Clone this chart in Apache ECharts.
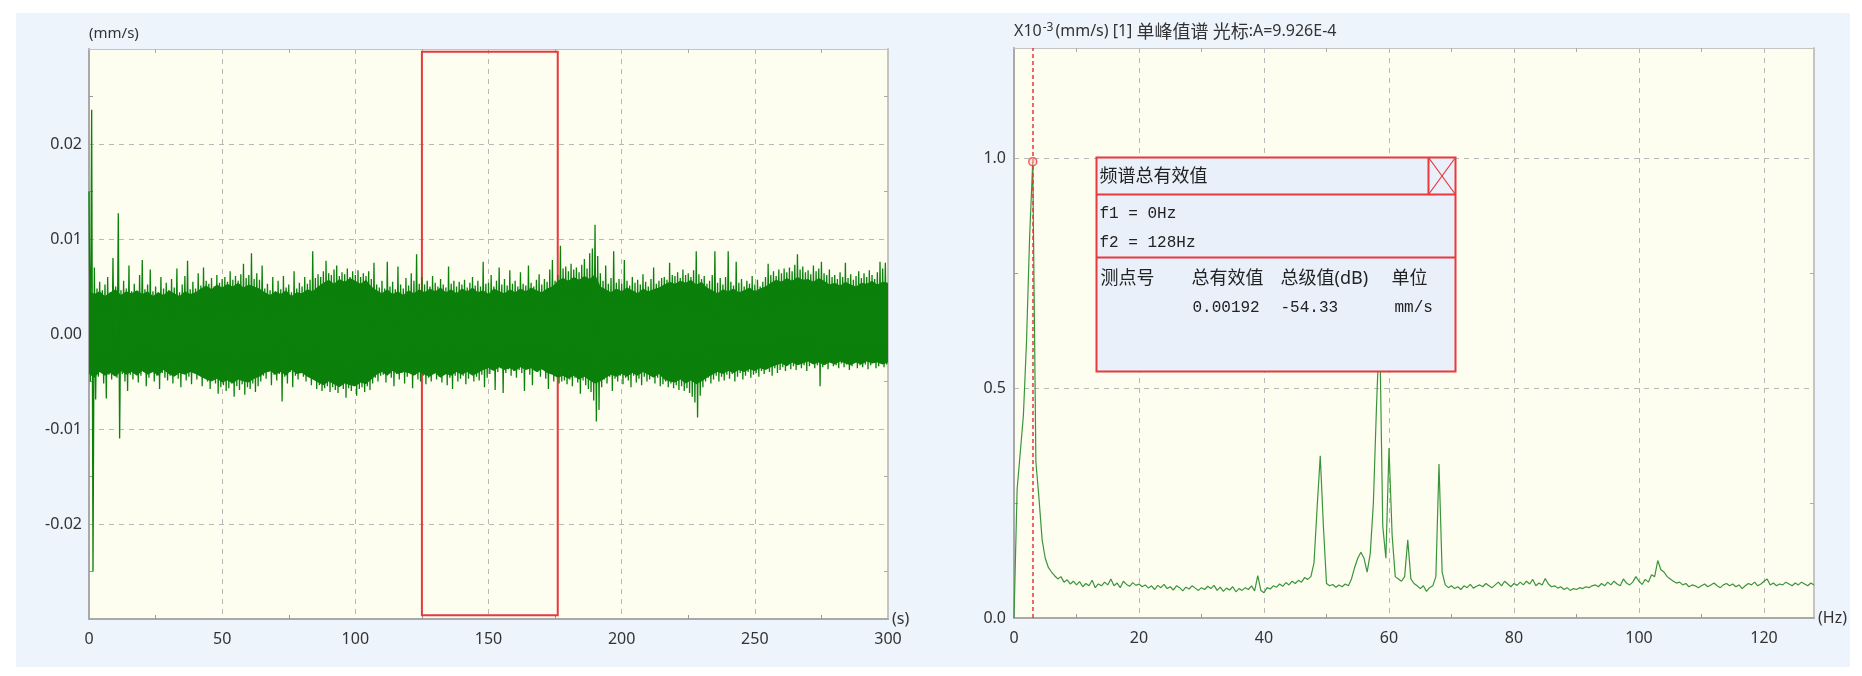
<!DOCTYPE html>
<html>
<head>
<meta charset="utf-8">
<script src="https://cdn.jsdelivr.net/npm/echarts@6/dist/echarts.min.js"></script>
<style>
html, body { margin: 0; padding: 0; background: #fff; }
.panel { position: absolute; left: 16px; top: 13px; width: 1834px; height: 654px; background: #edf4fc; }
#main { position: absolute; left: 0; top: 0; width: 1862px; height: 676px; }
</style>
</head>
<body>
<div class="panel"></div>
<div id="main"></div>
<script>
// 时域波形尖峰包络 (1 s 一格, 单位 1e-3 mm/s)
var waveHigh = [
  15.0, 23.6, 7.0, 4.8, 5.5, 4.6, 5.2, 6.0, 4.4, 8.0,
  5.0, 12.7, 4.6, 5.6, 4.8, 7.2, 4.5, 5.3, 4.4, 6.2,
  7.8, 4.7, 5.2, 6.8, 4.5, 5.0, 4.4, 6.0, 4.8, 5.4,
  4.6, 5.8, 4.9, 6.9, 4.4, 5.2, 6.1, 7.7, 4.7, 5.5,
  4.8, 6.4, 5.1, 7.0, 5.6, 5.3, 5.9, 5.0, 6.2, 5.4,
  5.8, 6.0, 5.5, 6.6, 5.7, 6.1, 5.6, 6.3, 7.4, 5.9,
  6.2, 8.5, 5.8, 6.4, 5.7, 7.2, 4.8, 5.3, 4.6, 6.0,
  4.5, 5.6, 4.7, 6.1, 4.9, 5.2, 4.4, 6.6, 4.8, 5.4,
  5.0, 6.0, 5.3, 5.7, 8.7, 5.9, 6.3, 6.0, 6.6, 7.7,
  6.4, 6.2, 6.8, 7.2, 6.1, 6.5, 6.3, 6.9, 6.0, 6.6,
  6.2, 6.7, 6.0, 6.4, 6.1, 6.6, 5.8, 7.5, 5.2, 4.9,
  5.6, 4.8, 7.6, 5.0, 5.5, 4.7, 7.1, 5.2, 4.8, 5.9,
  5.1, 6.4, 5.6, 8.4, 5.3, 6.0, 5.2, 5.6, 5.0, 6.1,
  5.4, 5.0, 5.8, 5.2, 4.9, 7.1, 5.3, 5.6, 5.0, 5.5,
  5.2, 5.7, 4.9, 5.4, 6.0, 5.1, 5.6, 5.0, 7.6, 5.3,
  5.4, 6.2, 5.0, 5.6, 7.0, 5.2, 5.8, 5.1, 6.7, 5.3,
  5.6, 5.0, 6.5, 5.3, 5.1, 7.2, 5.4, 5.0, 5.7, 6.3,
  5.2, 5.8, 5.5, 6.8, 7.8, 5.6, 6.2, 9.3, 6.9, 7.1,
  6.6, 7.4, 6.8, 7.0, 6.5, 7.3, 7.9, 6.9, 8.5, 9.0,
  11.5, 8.2, 6.4, 5.6, 7.2, 5.3, 5.9, 8.7, 5.4, 5.8,
  5.3, 7.8, 5.6, 5.1, 6.0, 5.4, 5.7, 5.2, 6.3, 5.5,
  5.0, 5.8, 7.0, 5.3, 5.6, 5.9, 6.0, 5.7, 7.5, 6.2,
  6.1, 6.5, 5.9, 6.8, 6.2, 6.4, 6.0, 6.7, 8.7, 6.3,
  5.8, 6.1, 5.3, 5.6, 6.2, 8.7, 5.4, 5.9, 5.2, 6.0,
  8.7, 5.5, 5.1, 7.6, 5.4, 5.8, 5.0, 5.6, 5.3, 6.1,
  5.2, 5.7, 5.0, 5.5, 6.0, 7.4, 6.2, 6.6, 6.1, 6.8,
  6.4, 6.9, 6.5, 7.0, 6.6, 7.3, 8.4, 6.8, 7.1, 6.5,
  6.7, 6.3, 7.2, 6.6, 6.9, 7.6, 6.4, 6.2, 6.8, 6.0,
  6.2, 5.8, 6.5, 6.0, 7.5, 5.9, 6.3, 5.7, 6.1, 6.6,
  5.9, 6.4, 6.0, 6.7, 6.2, 5.8, 6.5, 7.6, 6.9, 7.5
];
var waveLow = [
  -5.0, -25.0, -6.9, -4.5, -4.0, -5.2, -6.8, -4.3, -4.8, -4.4,
  -4.6, -11.0, -4.2, -5.0, -6.0, -4.3, -4.8, -3.9, -5.1, -4.4,
  -4.0, -5.5, -4.6, -3.8, -5.0, -4.4, -5.8, -4.1, -4.6, -4.9,
  -4.4, -5.2, -4.0, -4.7, -5.6, -4.2, -4.9, -4.5, -5.3, -4.1,
  -4.8, -4.3, -5.5, -4.6, -5.0, -5.8, -4.4, -5.2, -6.3, -5.6,
  -5.4, -6.0, -5.7, -5.2, -6.6, -5.5, -5.9, -5.3, -6.4, -5.6,
  -5.8, -5.2, -6.1, -5.5, -5.0, -4.4, -4.7, -4.0, -5.4, -4.3,
  -4.9, -4.2, -7.1, -4.5, -5.2, -4.0, -5.6, -4.4, -4.8, -4.1,
  -4.5, -5.0, -4.3, -5.4, -4.6, -5.8, -5.4, -6.0, -5.7, -5.5,
  -6.1, -5.6, -5.9, -6.2, -5.4, -5.8, -6.7, -5.7, -6.0, -5.5,
  -6.5, -5.8, -5.6, -6.1, -5.5, -5.9, -5.2, -4.6, -5.0, -4.4,
  -4.3, -5.1, -4.0, -4.6, -5.5, -4.2, -4.8, -4.1, -5.2, -4.5,
  -4.0, -5.7, -4.3, -4.8, -5.0, -4.4, -5.3, -4.6, -5.0, -4.2,
  -4.8, -4.5, -5.1, -4.3, -5.4, -4.6, -5.8, -4.4, -5.0, -4.7,
  -4.4, -5.3, -4.7, -4.2, -5.0, -4.5, -4.9, -4.3, -5.6, -4.6,
  -4.2, -3.8, -5.9, -4.0, -3.6, -6.2, -4.1, -3.7, -4.4, -3.9,
  -4.6, -3.8, -4.1, -6.0, -3.7, -4.3, -5.4, -3.9, -4.0, -4.5,
  -3.8, -4.7, -5.8, -4.2, -5.0, -4.4, -5.2, -5.0, -4.9, -5.3,
  -4.8, -5.5, -4.6, -5.1, -6.3, -4.9, -5.4, -5.8, -6.1, -7.0,
  -9.2, -8.0, -5.6, -4.8, -5.2, -4.5, -6.0, -4.7, -5.0, -4.4,
  -5.3, -4.6, -4.9, -5.6, -4.4, -5.1, -4.7, -5.4, -4.5, -5.0,
  -4.8, -4.4, -5.2, -4.6, -5.5, -5.3, -5.0, -5.6, -5.2, -5.7,
  -5.4, -5.9, -5.5, -6.0, -5.7, -6.2, -6.6, -7.2, -8.8, -6.5,
  -5.6, -5.0, -4.6, -5.2, -4.8, -4.4, -5.0, -4.5, -4.9, -4.3,
  -4.7, -4.2, -5.0, -4.5, -4.1, -4.8, -4.4, -4.0, -4.6, -4.3,
  -4.1, -4.5, -3.9, -4.2, -3.7, -4.0, -4.4, -3.6, -4.1, -3.8,
  -3.5, -3.9, -3.3, -3.7, -3.4, -3.8, -3.2, -3.6, -3.3, -3.9,
  -3.4, -3.1, -3.6, -3.3, -5.5, -3.5, -3.2, -3.7, -3.0, -3.4,
  -3.3, -3.6, -3.1, -3.5, -3.2, -3.8, -3.4, -3.0, -3.6, -3.3,
  -3.5, -3.2, -3.7, -3.3, -3.0, -3.6, -3.4, -3.1, -3.5, -3.2
];
// 波形实心部分上下沿 (2 s 一格, 单位 1e-3 mm/s)
var coreStep = 2;
var coreHigh = [
  4.6, 4.2, 4.5, 4.0, 4.4, 4.7, 4.1, 4.5, 4.3, 4.6,
  4.2, 4.5, 4.0, 4.4, 4.1, 4.6, 4.3, 4.0, 4.5, 4.2,
  4.4, 4.8, 5.1, 4.7, 5.2, 4.9, 5.3, 5.0, 5.4, 4.9,
  5.2, 5.0, 4.8, 4.4, 4.1, 4.5, 4.2, 4.6, 4.0, 4.4,
  4.3, 4.7, 4.5, 5.0, 5.4, 5.7, 5.3, 5.8, 5.5, 5.9,
  5.6, 5.3, 5.7, 5.0, 4.6, 4.3, 4.7, 4.2, 4.5, 4.1,
  4.6, 4.3, 4.7, 4.4, 4.8, 4.5, 4.9, 4.4, 4.7, 4.3,
  4.8, 4.5, 4.9, 4.4, 4.6, 4.2, 4.8, 4.5, 4.3, 4.7,
  4.4, 4.8, 4.5, 4.9, 4.6, 4.4, 4.8, 5.0, 5.6, 5.9,
  5.6, 6.0, 5.7, 6.1, 5.8, 6.3, 5.0, 4.7, 4.4, 4.8,
  4.5, 4.9, 4.6, 4.3, 4.8, 4.5, 4.7, 4.9, 5.2, 5.5,
  5.3, 5.6, 5.4, 5.7, 5.2, 5.5, 4.9, 4.6, 4.3, 4.7,
  4.5, 4.8, 4.4, 4.6, 4.9, 4.5, 4.8, 5.0, 5.4, 5.7,
  5.5, 5.9, 5.6, 6.0, 5.7, 5.8, 5.5, 5.9, 5.6, 5.2,
  5.4, 5.1, 5.5, 5.2, 5.0, 5.4, 5.3, 5.6, 5.2, 5.5,
  5.4
];
var coreLow = [
  -4.2, -4.6, -4.0, -4.4, -4.1, -4.5, -3.9, -4.3, -4.0, -4.4,
  -3.9, -4.3, -4.0, -4.4, -3.8, -4.2, -4.5, -4.1, -4.3, -4.0,
  -4.2, -4.5, -4.8, -5.0, -4.7, -5.1, -4.9, -5.2, -4.8, -5.0,
  -5.1, -4.7, -4.5, -4.1, -3.9, -4.3, -4.0, -4.4, -3.8, -4.2,
  -4.1, -4.5, -4.8, -5.1, -5.4, -5.0, -5.3, -5.6, -5.2, -5.4,
  -5.5, -5.1, -5.3, -4.8, -4.3, -4.0, -4.4, -3.9, -4.2, -4.0,
  -4.1, -4.4, -4.0, -4.3, -4.5, -4.1, -4.6, -4.2, -4.4, -4.0,
  -4.3, -4.0, -4.4, -4.1, -3.8, -3.6, -3.9, -3.5, -3.8, -3.6,
  -3.9, -3.5, -3.8, -3.6, -4.0, -3.7, -4.1, -4.3, -4.6, -4.4,
  -4.7, -4.4, -4.8, -4.5, -4.9, -5.2, -5.0, -4.6, -4.3, -4.5,
  -4.2, -4.5, -4.1, -4.4, -4.0, -4.3, -4.6, -4.2, -4.8, -5.0,
  -5.1, -4.8, -5.2, -4.9, -5.3, -5.0, -4.6, -4.3, -4.0, -4.2,
  -3.9, -4.1, -3.8, -4.0, -3.7, -3.9, -3.6, -3.8, -3.5, -3.3,
  -3.1, -3.4, -3.0, -3.3, -3.1, -2.9, -3.2, -3.0, -3.3, -3.0,
  -3.2, -2.9, -3.1, -3.3, -3.0, -3.2, -2.9, -3.1, -3.0, -3.2,
  -3.0
];
// 选中区间 (s) 及上下边 (mm/s)
var selStart = 125;
var selEnd = 176;
var selTop = 0.0297;
var selBottom = -0.0296;

// 单峰值谱 (0.5 Hz 一格, 单位 1e-3 mm/s)
var specStep = 0.5;
var specAmp = [
  0, 0.28, 0.36, 0.44, 0.60, 0.83, 0.9926, 0.34, 0.26, 0.17,
  0.13, 0.11, 0.10, 0.092, 0.085, 0.09, 0.078, 0.083, 0.074, 0.08,
  0.072, 0.079, 0.068, 0.075, 0.07, 0.082, 0.066, 0.074, 0.07, 0.078,
  0.072, 0.085, 0.07, 0.076, 0.066, 0.08, 0.073, 0.069, 0.077, 0.071,
  0.074, 0.068, 0.072, 0.065, 0.07, 0.062, 0.071, 0.066, 0.073, 0.064,
  0.068, 0.061, 0.07, 0.066, 0.059, 0.067, 0.063, 0.07, 0.065, 0.06,
  0.066, 0.062, 0.069, 0.064, 0.071, 0.06, 0.067, 0.058, 0.065, 0.061,
  0.068, 0.057, 0.064, 0.06, 0.066, 0.062, 0.07, 0.059, 0.092, 0.06,
  0.055, 0.066, 0.063, 0.07, 0.067, 0.074, 0.069, 0.077, 0.072, 0.08,
  0.075, 0.082, 0.078, 0.088, 0.084, 0.09, 0.12, 0.24, 0.353, 0.2,
  0.075, 0.07, 0.073, 0.067, 0.072, 0.068, 0.074, 0.07, 0.085, 0.11,
  0.13, 0.143, 0.13, 0.10, 0.14, 0.25, 0.46, 0.64, 0.2, 0.13,
  0.37, 0.18, 0.09, 0.085, 0.08, 0.09, 0.17, 0.085, 0.075, 0.07,
  0.064, 0.07, 0.058, 0.066, 0.07, 0.09, 0.335, 0.1, 0.072, 0.066,
  0.07, 0.064, 0.068, 0.062, 0.07, 0.066, 0.073, 0.065, 0.069, 0.072,
  0.068, 0.075, 0.07, 0.066, 0.072, 0.078, 0.07, 0.08, 0.074, 0.068,
  0.075, 0.071, 0.078, 0.072, 0.08, 0.074, 0.084, 0.07, 0.076, 0.072,
  0.086, 0.074, 0.068, 0.07, 0.065, 0.068, 0.062, 0.066, 0.06, 0.064,
  0.062, 0.066, 0.064, 0.068, 0.066, 0.07, 0.072, 0.068, 0.075, 0.07,
  0.078, 0.072, 0.08, 0.074, 0.07, 0.085, 0.076, 0.072, 0.078, 0.09,
  0.08, 0.073, 0.084, 0.078, 0.094, 0.09, 0.125, 0.105, 0.1, 0.09,
  0.085, 0.08, 0.076, 0.078, 0.072, 0.075, 0.068, 0.072, 0.07, 0.066,
  0.07, 0.074, 0.068, 0.072, 0.076, 0.07, 0.066, 0.072, 0.075, 0.07,
  0.074, 0.068, 0.072, 0.064, 0.07, 0.075, 0.072, 0.078, 0.07, 0.074,
  0.08, 0.085, 0.072, 0.076, 0.07, 0.074, 0.072, 0.078, 0.074, 0.07,
  0.076, 0.072, 0.078, 0.074, 0.07, 0.076, 0.072
];
// 光标
var cursorFreq = 3.0;
var cursorAmp = 0.9926;
// 频谱总有效值
var boxTitle = "频谱总有效值";
var freqRange = ["f1 = 0Hz", "f2 = 128Hz"];
var tableHead = ["测点号", "总有效值", "总级值(dB)", "单位"];
var tableRow = ["", "0.00192", "-54.33", "mm/s"];

var waveData = [];
waveHigh.forEach(function (h, i) {
  waveData.push([i, h / 1000]);
  waveData.push([i + 0.5, waveLow[i] / 1000]);
});
var coreHighData = coreHigh.map(function (v, i) { return [i * coreStep, v / 1000]; });
var coreLowData = coreLow.map(function (v, i) { return [i * coreStep, v / 1000]; });
var specData = specAmp.map(function (a, i) {
  return [i * specStep, a];
});

var FONT = "'Noto Sans', 'Noto Sans CJK SC', sans-serif";
var CJK = "'Noto Sans CJK SC', sans-serif";
var MONO = "'Liberation Mono', 'Noto Sans CJK SC', monospace";
var RED = "#e8393c";
var GREEN = "#0b800b";

function mainAxis(opt) {
  return Object.assign({
    type: "value",
    axisLine: { show: true, onZero: false, lineStyle: { color: "#a9a9a9", width: 2 } },
    axisTick: { show: false, inside: true },
    minorTick: { show: true, splitNumber: 2, length: 4, lineStyle: { color: "#999" } },
    axisLabel: { color: "#333", fontSize: 16, fontFamily: FONT },
    splitLine: { show: true, lineStyle: { color: "#b8b8b8", type: [5, 5], width: 1 } },
  }, opt);
}
function edgeAxis(opt) {
  return Object.assign({
    type: "value",
    axisLine: { show: true, onZero: false, lineStyle: { color: "#c4c4c4", width: 1 } },
    axisTick: { show: false, inside: true },
    minorTick: { show: true, splitNumber: 2, length: 4, lineStyle: { color: "#aaa" } },
    axisLabel: { show: false },
    splitLine: { show: false },
  }, opt);
}
function boxText(x, y, text, font) {
  return { type: "text", z: 101, style: { x: x, y: y, text: text, fill: "#222", font: font, verticalAlign: "middle" } };
}
function boxLine(x1, y1, x2, y2, w) {
  return { type: "line", z: 101, shape: { x1: x1, y1: y1, x2: x2, y2: y2 }, style: { stroke: RED, lineWidth: w } };
}

var chartDom = document.getElementById("main");
var myChart = echarts.init(chartDom);

var option = {
  animation: false,
  backgroundColor: "transparent",
  grid: [
    { left: 89, top: 49, width: 799, height: 570, show: true, backgroundColor: "#fdfdf0", borderWidth: 0 },
    { left: 1014, top: 48, width: 800, height: 570, show: true, backgroundColor: "#fdfdf0", borderWidth: 0 },
  ],
  xAxis: [
    mainAxis({
      gridIndex: 0, min: 0, max: 300, interval: 50,
      axisLabel: { color: "#333", fontSize: 16, fontFamily: FONT, margin: 12 },
      name: "(s)", nameLocation: "end", nameGap: 4,
      nameTextStyle: { color: "#333", fontSize: 16, fontFamily: FONT, padding: [0, 0, 14, 0] },
    }),
    edgeAxis({ gridIndex: 0, min: 0, max: 300, interval: 50, position: "top" }),
    mainAxis({
      gridIndex: 1, min: 0, max: 128, interval: 20,
      axisLabel: { color: "#333", fontSize: 16, fontFamily: FONT, margin: 12, showMaxLabel: false },
      name: "(Hz)", nameLocation: "end", nameGap: 4,
      nameTextStyle: { color: "#333", fontSize: 16, fontFamily: FONT, padding: [0, 0, 14, 0] },
    }),
    edgeAxis({ gridIndex: 1, min: 0, max: 128, interval: 20, position: "top" }),
  ],
  yAxis: [
    mainAxis({
      gridIndex: 0, min: -0.03, max: 0.03, interval: 0.01,
      axisLabel: {
        color: "#333", fontSize: 16, fontFamily: FONT, margin: 7,
        showMinLabel: false, showMaxLabel: false,
        formatter: function (v) { return v.toFixed(2); },
      },
      name: "(mm/s)", nameLocation: "end", nameGap: 8,
      nameTextStyle: { color: "#333", fontSize: 15, fontFamily: FONT, align: "left" },
    }),
    edgeAxis({
      gridIndex: 0, min: -0.03, max: 0.03, interval: 0.01, position: "right",
      axisLine: { show: true, onZero: false, lineStyle: { color: "#c4c4c4", width: 2 } },
    }),
    mainAxis({
      gridIndex: 1, min: 0, max: 1.24, interval: 0.5,
      axisLabel: {
        color: "#333", fontSize: 16, fontFamily: FONT, margin: 8, showMaxLabel: false,
        formatter: function (v) { return v.toFixed(1); },
      },
      name: "{a|X10}{s|-3}{a|(mm/s) [1] }{c|单峰值谱}{a| }{c|光标}{a|:A=9.926E-4}",
      nameLocation: "end", nameGap: 8,
      nameTextStyle: {
        align: "left",
        rich: {
          a: { color: "#333", fontSize: 16, fontFamily: FONT },
          c: { color: "#333", fontSize: 18, fontFamily: CJK },
          s: { color: "#333", fontSize: 12, fontFamily: FONT, verticalAlign: "top", padding: [0, 2, 0, 1] },
        },
      },
    }),
    edgeAxis({
      gridIndex: 1, min: 0, max: 1.24, interval: 0.5, position: "right",
      axisLine: { show: true, onZero: false, lineStyle: { color: "#c4c4c4", width: 2 } },
    }),
  ],
  series: [
    {
      name: "实心上沿",
      type: "line",
      xAxisIndex: 0,
      yAxisIndex: 0,
      data: coreHighData,
      showSymbol: false,
      lineStyle: { width: 0 },
      areaStyle: { color: GREEN, opacity: 1 },
    },
    {
      name: "实心下沿",
      type: "line",
      xAxisIndex: 0,
      yAxisIndex: 0,
      data: coreLowData,
      showSymbol: false,
      lineStyle: { width: 0 },
      areaStyle: { color: GREEN, opacity: 1 },
    },
    {
      name: "波形",
      type: "line",
      xAxisIndex: 0,
      yAxisIndex: 0,
      data: waveData,
      showSymbol: false,
      lineStyle: { color: GREEN, width: 1.3 },
      markArea: {
        silent: true,
        itemStyle: { color: "transparent", borderColor: RED, borderWidth: 2 },
        data: [[{ xAxis: selStart, yAxis: selTop }, { xAxis: selEnd, yAxis: selBottom }]],
      },
    },
    {
      name: "单峰值谱",
      type: "line",
      xAxisIndex: 2,
      yAxisIndex: 2,
      data: specData,
      showSymbol: false,
      lineStyle: { color: "#3a953a", width: 1.2 },
      markLine: {
        silent: true,
        symbol: "none",
        label: { show: false },
        lineStyle: { color: RED, type: [4, 3], width: 1.5 },
        data: [{ xAxis: cursorFreq }],
      },
    },
    {
      name: "光标",
      type: "scatter",
      xAxisIndex: 2,
      yAxisIndex: 2,
      data: [[cursorFreq, cursorAmp]],
      symbol: "circle",
      symbolSize: 8,
      itemStyle: { color: "rgba(255,200,200,0.6)", borderColor: RED, borderWidth: 1.5 },
      z: 5,
    },
  ],
  graphic: [
    {
      type: "group",
      left: 1094,
      top: 155,
      z: 100,
      children: [
        { type: "rect", z: 100, shape: { x: 0, y: 0, width: 359, height: 214 }, style: { fill: "#eaf0fa", stroke: RED, lineWidth: 2 } },
        boxLine(0, 37, 359, 37, 2),
        boxLine(0, 100, 359, 100, 2),
        boxLine(332, 0, 332, 37, 2),
        boxLine(332, 0, 359, 37, 1.2),
        boxLine(332, 37, 359, 0, 1.2),
        boxText(3, 19, boxTitle, "18px " + FONT),
        boxText(3, 56, freqRange[0], "16px " + MONO),
        boxText(3, 85, freqRange[1], "16px " + MONO),
        boxText(4, 121, tableHead[0], "18px " + FONT),
        boxText(95, 121, tableHead[1], "18px " + FONT),
        boxText(184, 121, tableHead[2], "18px " + FONT),
        boxText(295, 121, tableHead[3], "18px " + FONT),
        boxText(96, 150, tableRow[1], "16px " + MONO),
        boxText(184, 150, tableRow[2], "16px " + MONO),
        boxText(298, 150, tableRow[3], "16px " + MONO),
      ],
    },
  ],
};
option && myChart.setOption(option);
</script>
</body>
</html>
